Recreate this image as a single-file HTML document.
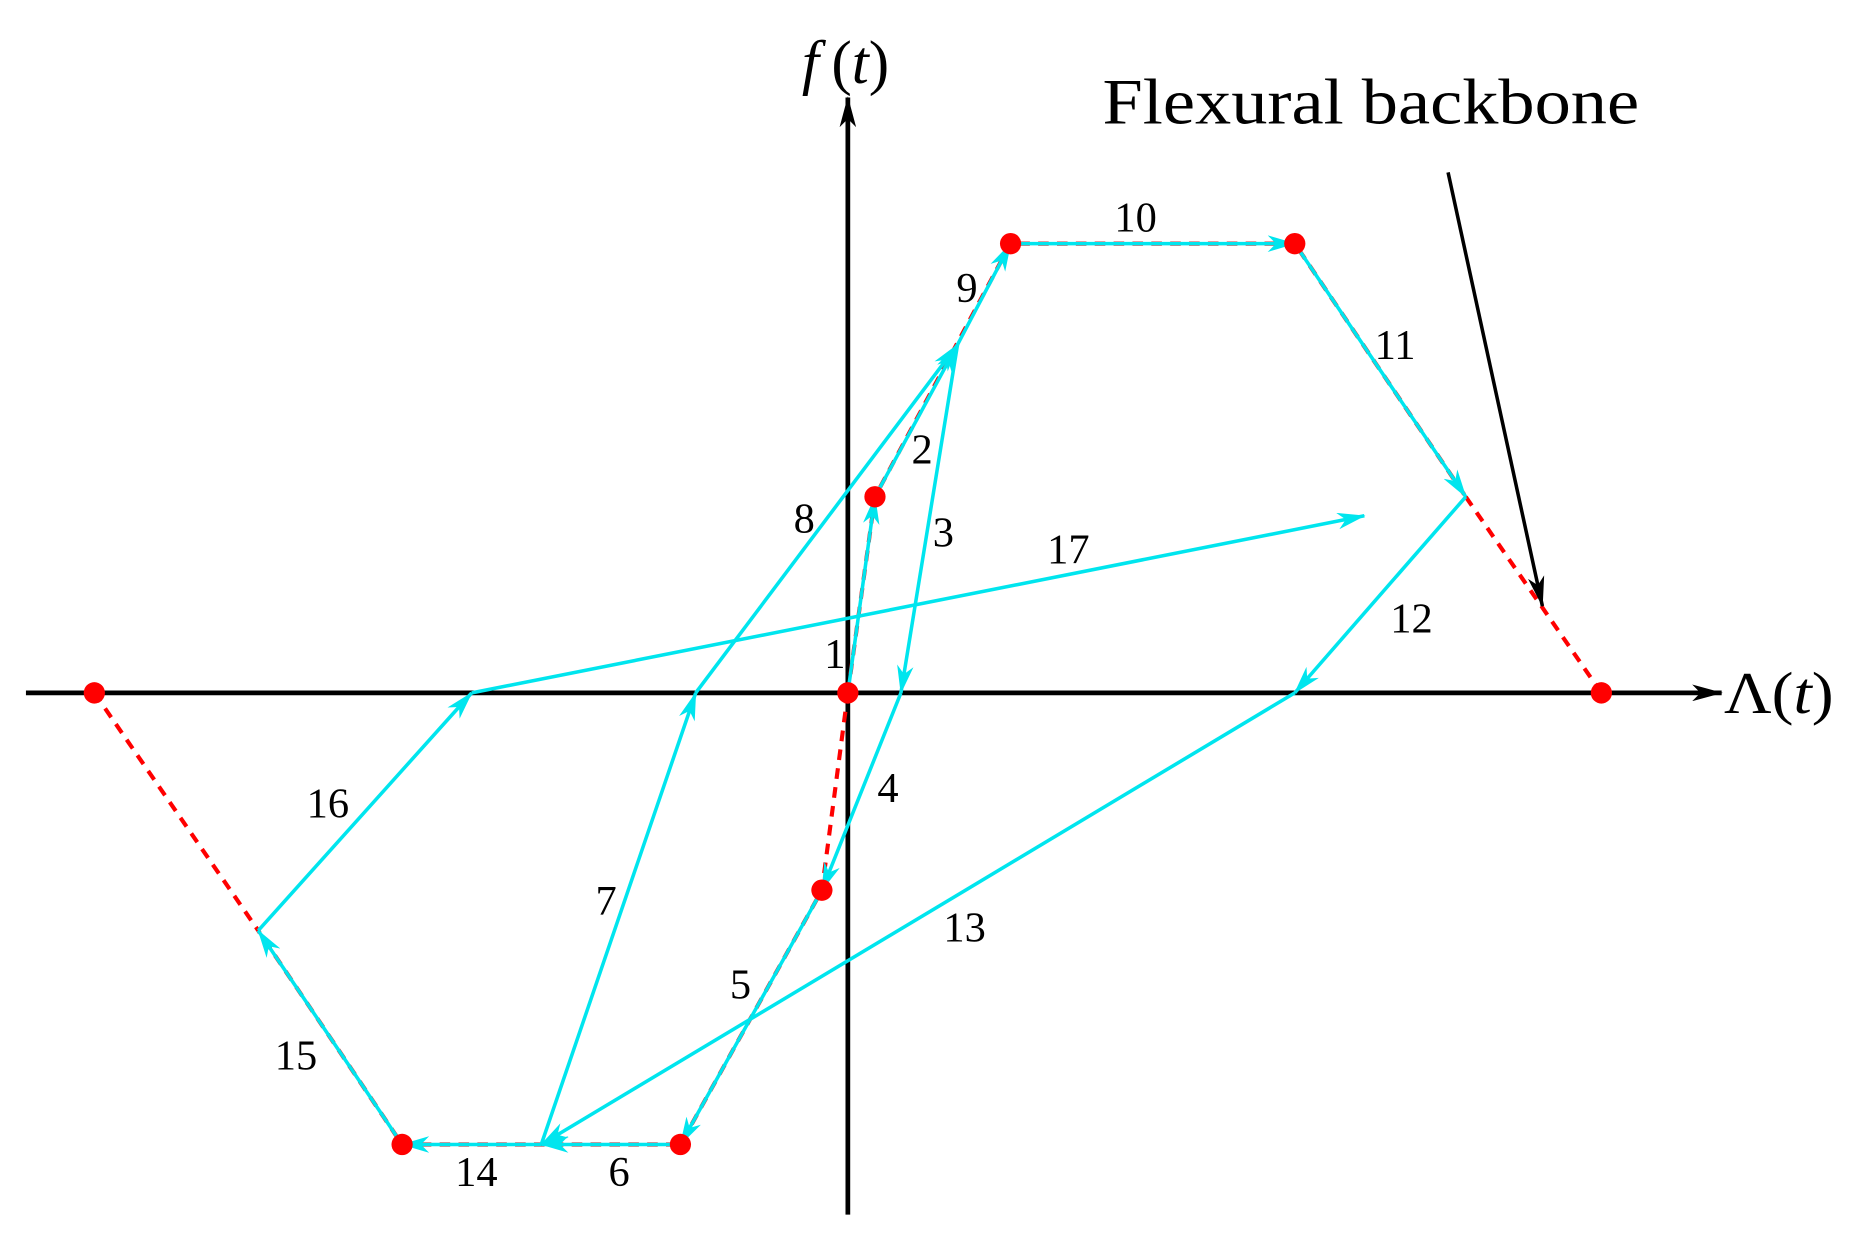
<!DOCTYPE html>
<html><head><meta charset="utf-8"><style>
html,body{margin:0;padding:0;background:#fff;}
svg{display:block;}
text{font-family:"Liberation Serif",serif;fill:#000;}
</style></head><body>
<svg width="1849" height="1236" viewBox="0 0 1568 1040" preserveAspectRatio="none" xmlns="http://www.w3.org/2000/svg">
<defs>
<marker id="c" viewBox="0 0 24 14" refX="23" refY="7" markerWidth="24" markerHeight="14" markerUnits="userSpaceOnUse" orient="auto">
<path d="M0,0 L24,7 L0,14 L7,7 Z" fill="#00e5ee"/>
</marker>
<marker id="k" viewBox="0 0 26 14" refX="25" refY="7" markerWidth="26" markerHeight="14" markerUnits="userSpaceOnUse" orient="auto">
<path d="M0,0 L26,7 L0,14 L7,7 Z" fill="#000"/>
</marker>
</defs>
<rect width="1568" height="1040" fill="#fff"/>
<line x1="22" y1="583" x2="1460" y2="583" stroke="#000" stroke-width="4" marker-end="url(#k)"/>
<line x1="719" y1="1022" x2="719" y2="82" stroke="#000" stroke-width="4" marker-end="url(#k)"/>
<g stroke="#f00" stroke-width="3.5" stroke-dasharray="9,7" fill="none">
<line x1="80" y1="583" x2="219" y2="783"/>
<line x1="1243" y1="418" x2="1358" y2="583"/>
<polyline points="719,583 697,749 577,963 341,963 219,783"/>
<polyline points="719,583 742,418 857,205 1098,205 1243,418"/>
</g>
<g stroke="#00e5ee" stroke-width="3" fill="none" marker-end="url(#c)">
<line x1="719" y1="583" x2="742" y2="418"/>
<line x1="742" y1="418" x2="812" y2="290"/>
<line x1="812" y1="290" x2="764" y2="583"/>
<line x1="764" y1="583" x2="697" y2="749"/>
<line x1="697" y1="749" x2="577" y2="963"/>
<line x1="577" y1="963" x2="459" y2="963"/>
<line x1="459" y1="963" x2="590" y2="583"/>
<line x1="590" y1="583" x2="812" y2="290"/>
<line x1="812" y1="290" x2="857" y2="205"/>
<line x1="857" y1="205" x2="1098" y2="205"/>
<line x1="1098" y1="205" x2="1243" y2="418"/>
<line x1="1243" y1="418" x2="1098" y2="583"/>
<line x1="1098" y1="583" x2="459" y2="963"/>
<line x1="459" y1="963" x2="341" y2="963"/>
<line x1="341" y1="963" x2="219" y2="783"/>
<line x1="219" y1="783" x2="400" y2="583"/>
<line x1="400" y1="583" x2="1157" y2="434"/>
</g>
<g fill="#f00">
<circle cx="80" cy="583" r="9"/><circle cx="719" cy="583" r="9"/>
<circle cx="742" cy="418" r="9"/><circle cx="857" cy="205" r="9"/>
<circle cx="1098" cy="205" r="9"/><circle cx="1358" cy="583" r="9"/>
<circle cx="697" cy="749" r="9"/><circle cx="577" cy="963" r="9"/>
<circle cx="341" cy="963" r="9"/>
</g>
<line x1="1228" y1="145" x2="1308" y2="510" stroke="#000" stroke-width="3" marker-end="url(#k)"/>
<g font-size="36" text-anchor="middle">
<text x="708" y="562">1</text>
<text x="782" y="390">2</text>
<text x="800" y="460">3</text>
<text x="753" y="675">4</text>
<text x="628" y="840">5</text>
<text x="525" y="998">6</text>
<text x="514" y="770">7</text>
<text x="682" y="448">8</text>
<text x="820" y="254">9</text>
<text x="963" y="195">10</text>
<text x="1183" y="302">11</text>
<text x="1197" y="532">12</text>
<text x="818" y="792">13</text>
<text x="404" y="998">14</text>
<text x="251" y="900">15</text>
<text x="278" y="688">16</text>
<text x="906" y="474">17</text>
</g>
<text x="680" y="70" font-size="52" font-style="italic">f</text>
<text x="705" y="70" font-size="52">(<tspan font-style="italic">t</tspan>)</text>
<text x="1462" y="600" font-size="50" textLength="93" lengthAdjust="spacingAndGlyphs">Λ(<tspan font-style="italic">t</tspan>)</text>
<text x="935" y="104" font-size="54" textLength="455" lengthAdjust="spacingAndGlyphs">Flexural backbone</text>
</svg>
</body></html>
